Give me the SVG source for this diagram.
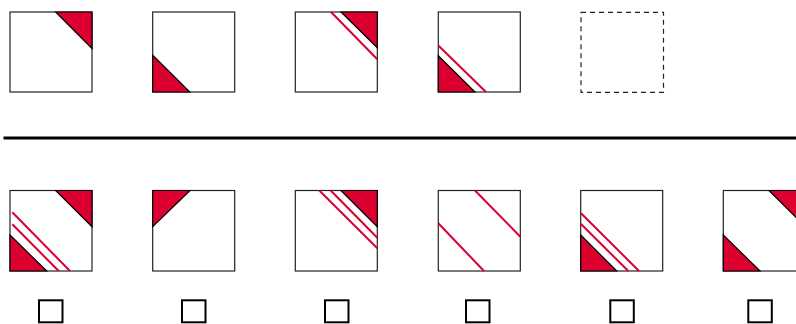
<svg xmlns="http://www.w3.org/2000/svg" width="796" height="324" viewBox="0 0 796 324">
<style>
.box{fill:#fff;stroke:#222;stroke-width:1.2}
.dash{fill:none;stroke:#222;stroke-width:1.2;stroke-dasharray:5,4}
.tri{fill:#dc0030;stroke:#000;stroke-width:1.2;stroke-linejoin:miter}
.ln{stroke:#dc0030;stroke-width:2;fill:none}
.chk{fill:#fff;stroke:#000;stroke-width:2}
</style>
<rect width="796" height="324" fill="#fff"/>
<g id="top1"><rect class="box" x="10" y="12" width="82" height="80"/><polygon class="tri" points="55.7,12 92,12 92,48.5"/></g>
<g id="top2"><rect class="box" x="152.7" y="12" width="82" height="80"/><polygon class="tri" points="152.7,55.3 152.7,92 189.7,92"/></g>
<g id="top3"><rect class="box" x="295.3" y="12" width="82" height="80"/><polygon class="tri" points="341,12 377.3,12 377.3,47.7"/><line class="ln" x1="331" y1="12" x2="377.3" y2="59.3"/></g>
<g id="top4"><rect class="box" x="438.3" y="12" width="82" height="80"/><polygon class="tri" points="438.3,55.7 438.3,92 475,92"/><line class="ln" x1="438.3" y1="45.5" x2="486" y2="92"/></g>
<g id="top5"><rect class="dash" x="581" y="12.3" width="82.5" height="80"/></g>
<g id="bot1"><rect class="box" x="10" y="190.5" width="82" height="80.5"/><polygon class="tri" points="55.7,190.5 92,190.5 92,226.7"/><polygon class="tri" points="10,235 10,271 46.7,271"/><line class="ln" x1="12.3" y1="212.3" x2="70" y2="271"/><line class="ln" x1="12.3" y1="224.3" x2="58.7" y2="271"/></g>
<g id="bot2"><rect class="box" x="152.7" y="190.5" width="82" height="80.5"/><polygon class="tri" points="152.7,190.5 190,190.5 152.7,226.7"/></g>
<g id="bot3"><rect class="box" x="295.3" y="190.5" width="82" height="80.5"/><polygon class="tri" points="341,190.5 377.3,190.5 377.3,226.7"/><line class="ln" x1="319.3" y1="190.5" x2="377.3" y2="248.3"/><line class="ln" x1="330.7" y1="190.5" x2="377.3" y2="237.7"/></g>
<g id="bot4"><rect class="box" x="438.3" y="190.5" width="82" height="80.5"/><line class="ln" x1="475" y1="190.5" x2="520.3" y2="236.7"/><line class="ln" x1="438.3" y1="223.3" x2="484" y2="271"/></g>
<g id="bot5"><rect class="box" x="580.7" y="190.5" width="82" height="80.5"/><polygon class="tri" points="580.7,235 580.7,271 616.7,271"/><line class="ln" x1="581" y1="213.3" x2="639" y2="271"/><line class="ln" x1="581" y1="224" x2="628.3" y2="271"/></g>
<g id="bot6"><rect class="box" x="723.3" y="190.5" width="82" height="80.5"/><polygon class="tri" points="769,190.5 805.3,190.5 805.3,226.7"/><polygon class="tri" points="723.3,235 723.3,271 760,271"/></g>
<g id="checks">
<rect class="chk" x="39" y="300.3" width="23.5" height="22"/>
<rect class="chk" x="182" y="300.3" width="23.5" height="22"/>
<rect class="chk" x="325" y="300.3" width="23.5" height="22"/>
<rect class="chk" x="466" y="300.3" width="23.5" height="22"/>
<rect class="chk" x="610.3" y="300.3" width="23.5" height="22"/>
<rect class="chk" x="748.3" y="300.3" width="23.5" height="22"/>
</g>
<g id="connectors"><line x1="3.5" y1="138" x2="796" y2="138" stroke="#000" stroke-width="3.2"/></g>
</svg>
